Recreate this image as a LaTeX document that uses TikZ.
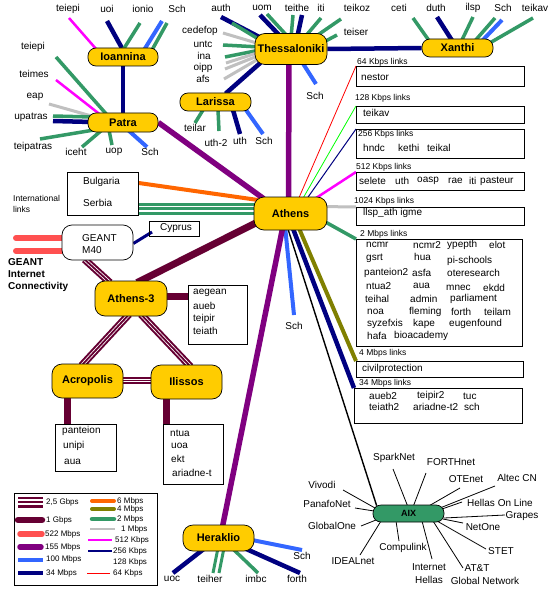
\documentclass[tikz,border=0pt]{standalone}
\usepackage{fontspec}
\setmainfont{Liberation Sans}
\usetikzlibrary{backgrounds,calc}
\definecolor{maroonc}{HTML}{660033}
\definecolor{salmonc}{HTML}{FF5050}
\definecolor{purplec}{HTML}{800080}
\definecolor{bluec}{HTML}{3366FF}
\definecolor{navyc}{HTML}{000080}
\definecolor{orangec}{HTML}{FF6600}
\definecolor{olivec}{HTML}{808000}
\definecolor{greenc}{HTML}{339966}
\definecolor{greyc}{HTML}{C0C0C0}
\definecolor{magc}{HTML}{FF00FF}
\definecolor{limec}{HTML}{00FF00}
\definecolor{redc}{HTML}{FF0000}
\definecolor{goldc}{HTML}{FFCC00}
\begin{document}
\begin{tikzpicture}[x=1pt,y=-1pt,
  city/.style={draw, line width=0.7pt, fill=goldc, rounded corners=8pt, inner sep=0pt, font=\bfseries\fontsize{11}{12}\selectfont},
  lbl/.style={inner sep=0pt, font=\fontsize{10}{12}\selectfont},
  wl/.style={lbl, anchor=west},
  sml/.style={inner sep=0pt, font=\fontsize{8.5}{10}\selectfont, anchor=west},
  leg/.style={inner sep=0pt, font=\fontsize{8}{10}\selectfont, anchor=west},
  boxn/.style={draw, line width=0.7pt, inner sep=0pt, anchor=north west},
  p155/.style={draw=purplec, line width=5.5pt},
  n34/.style={draw=navyc, line width=4.5pt},
  b100/.style={draw=bluec, line width=4pt},
  g2m/.style={draw=greenc, line width=3.5pt},
  s1m/.style={draw=greyc, line width=3pt},
  m512/.style={draw=magc, line width=2.5pt},
  n256/.style={draw=navyc, line width=1pt},
  l128/.style={draw=limec, line width=0.8pt},
  r64/.style={draw=redc, line width=0.8pt},
  o6/.style={draw=orangec, line width=4pt},
  o4/.style={draw=olivec, line width=4pt},
  mg1/.style={draw=maroonc, line width=7pt},
  mg25/.style={preaction={draw=maroonc, line width=7.4pt}, draw=white, line width=3.4pt, postaction={draw=maroonc, line width=1.8pt}},
  r522/.style={draw=salmonc, line width=6pt, line cap=round},
  thin/.style={draw=black, line width=0.8pt}
]
\useasboundingbox (0,0) rectangle (552,591);

% ---------- city nodes ----------
\node[city, minimum width=70pt, minimum height=18pt] (ioan) at (123,57) {Ioannina};
\node[city, minimum width=70pt, minimum height=19pt] (patra) at (123,122.5) {Patra};
\node[city, minimum width=71pt, minimum height=18pt] (lar) at (215.5,102) {Larissa};
\node[city, minimum width=72pt, minimum height=31pt, rounded corners=10pt] (thess) at (291,49) {Thessaloniki};
\node[city, minimum width=71pt, minimum height=18pt] (xan) at (457.5,48) {Xanthi};
\node[city, minimum width=73pt, minimum height=33pt, rounded corners=10pt] (ath) at (290.5,213.5) {Athens};
\node[city, minimum width=72pt, minimum height=35pt, rounded corners=10pt] (ath3) at (131,298.5) {Athens-3};
\node[city, minimum width=71pt, minimum height=34pt, rounded corners=10pt] (acro) at (87.5,381) {Acropolis};
\node[city, minimum width=71pt, minimum height=34pt, rounded corners=10pt] (ilis) at (186.5,382) {Ilissos};
\node[city, minimum width=71pt, minimum height=26pt, rounded corners=10pt] (her) at (218.5,538) {Heraklio};
\node[city, fill=greenc, minimum width=71pt, minimum height=17pt, font=\bfseries\fontsize{9}{10}\selectfont] (aix) at (408.5,513.5) {AIX};
\node[draw, line width=0.7pt, fill=white, rounded corners=10pt, minimum width=71pt, minimum height=35pt, inner sep=0pt] (geant) at (97.5,242.5) {};
\node[wl] (geantA) at (82,238) {GEANT};
\node[wl] (geantB) at (82,250) {M40};

% ---------- boxes ----------
\node[boxn, minimum width=168pt, minimum height=20pt] (b64) at (356,66) {};
\node[boxn, minimum width=168pt, minimum height=17pt] (b128) at (356,106) {};
\node[boxn, minimum width=168pt, minimum height=29pt] (b256) at (356,129) {};
\node[boxn, minimum width=168pt, minimum height=18pt] (b512) at (356,172) {};
\node[boxn, minimum width=168pt, minimum height=18pt] (b1024) at (356,207) {};
\node[boxn, minimum width=166pt, minimum height=107pt] (b2m) at (356,239) {};
\node[boxn, minimum width=167pt, minimum height=16pt] (b4m) at (356,361) {};
\node[boxn, minimum width=168pt, minimum height=35pt] (b34m) at (354,388) {};
\node[boxn, minimum width=71pt, minimum height=43pt] (bint) at (67,172) {};
\node[boxn, minimum width=50pt, minimum height=15pt] (bcyp) at (149,221) {};
\node[boxn, minimum width=59pt, minimum height=59pt] (b3) at (188,285) {};
\node[boxn, minimum width=61pt, minimum height=47pt] (bacro) at (55,424) {};
\node[boxn, minimum width=60pt, minimum height=60pt] (bilis) at (163,424) {};
\node[boxn, minimum width=143pt, minimum height=92pt] (legend) at (14,493) {};

% ---------- box texts ----------
\node[sml] (t64) at (357,62) {64 Kbps links};
\node[wl] (tnestor) at (361,77) {nestor};
\node[sml] (t128) at (355,98) {128 Kbps links};
\node[wl] (tteikav) at (363,113) {teikav};
\node[sml] (t256) at (358,134) {256 Kbps links};
\node[wl] at (363,148) {hndc};
\node[wl] at (398,148) {kethi};
\node[wl] at (427,148) {teikal};
\node[sml] (t512) at (356,167) {512 Kbps links};
\node[wl] at (359,181) {selete};
\node[wl] at (395,181) {uth};
\node[wl] at (417,181) {oasp};
\node[wl] at (448,181) {rae};
\node[wl] at (469,181) {iti};
\node[wl] at (480,181) {pasteur};
\node[sml] (t1024) at (354,201) {1024 Kbps links};
\node[wl] at (363,213) {llsp\_ath igme};
\node[sml] (t2m) at (360,234) {2 Mbps links};
\node[wl] at (366,245) {ncmr};
\node[wl] at (413,245) {ncmr2};
\node[wl] at (447,245) {ypepth};
\node[wl] at (489,245) {elot};
\node[wl] at (366,258) {gsrt};
\node[wl] at (414,257) {hua};
\node[wl] at (447,261) {pi-schools};
\node[wl] at (364,273) {panteion2};
\node[wl] at (412,273) {asfa};
\node[wl] at (447,273) {oteresearch};
\node[wl] at (366,286) {ntua2};
\node[wl] at (413,286) {aua};
\node[wl] at (446,288) {mnec};
\node[wl] at (483,288) {ekdd};
\node[wl] at (365,299) {teihal};
\node[wl] at (410,299) {admin};
\node[wl] at (450,299) {parliament};
\node[wl] at (367,312) {noa};
\node[wl] at (409,312) {fleming};
\node[wl] at (451,312) {forth};
\node[wl] at (484,312) {teilam};
\node[wl] at (367,324) {syzefxis};
\node[wl] at (413,324) {kape};
\node[wl] at (449,324) {eugenfound};
\node[wl] at (367,336) {hafa};
\node[wl] at (394,336) {bioacademy};
\node[sml] (t4m) at (359,353) {4 Mbps links};
\node[wl] at (362,369) {civilprotection};
\node[sml] (t34m) at (359,383) {34 Mbps links};
\node[wl] at (369,396) {aueb2};
\node[wl] at (417,396) {teipir2};
\node[wl] at (463,396) {tuc};
\node[wl] at (369,407) {teiath2};
\node[wl] at (413,407) {ariadne-t2};
\node[wl] at (464,407) {sch};

\node[wl] at (83,182) {Bulgaria};
\node[wl] at (83,203) {Serbia};
\node[sml] at (13,198) {International};
\node[sml] at (13,209) {links};
\node[wl] at (160,228) {Cyprus};
\node[inner sep=0pt, anchor=west, font=\bfseries\fontsize{10}{12}\selectfont] at (8,262) {GEANT};
\node[inner sep=0pt, anchor=west, font=\bfseries\fontsize{10}{12}\selectfont] at (8,274) {Internet};
\node[inner sep=0pt, anchor=west, font=\bfseries\fontsize{10}{12}\selectfont] at (8,287) {Connectivity};

\node[wl] at (193,293) {aegean};
\node[wl] at (193,306) {aueb};
\node[wl] at (193,319) {teipir};
\node[wl] at (193,331) {teiath};
\node[wl] at (62,431) {panteion};
\node[wl] at (63,446) {unipi};
\node[wl] at (64,462) {aua};
\node[wl] at (170,433) {ntua};
\node[wl] at (171,446) {uoa};
\node[wl] at (171,459) {ekt};
\node[wl] at (172,473) {ariadne-t};

% ---------- spoke labels ----------
\node[lbl] at (68,9) {teiepi};
\node[lbl] at (107,9) {uoi};
\node[lbl] at (143,9) {ionio};
\node[lbl] at (177,9) {Sch};
\node[lbl] at (221,8) {auth};
\node[lbl] at (262,8) {uom};
\node[lbl] at (297,8) {teithe};
\node[lbl] at (321,8) {iti};
\node[lbl] at (357,8) {teikoz};
\node[lbl] at (399,8) {ceti};
\node[lbl] at (436,8) {duth};
\node[lbl] at (473,8) {ilsp};
\node[lbl] at (503,8) {Sch};
\node[lbl] at (535,8) {teikav};
\node[lbl] at (356,32) {teiser};
\node[lbl] at (200,31) {cedefop};
\node[lbl] at (203,44) {untc};
\node[lbl] at (204,56) {ina};
\node[lbl] at (203,68) {oipp};
\node[lbl] at (203,79) {afs};
\node[lbl] at (315,96) {Sch};
\node[lbl] at (33,47) {teiepi};
\node[lbl] at (34,74) {teimes};
\node[lbl] at (35,97) {eap};
\node[lbl] at (31,117) {upatras};
\node[lbl] at (33,147) {teipatras};
\node[lbl] at (76,152) {iceht};
\node[lbl] at (114,152) {uop};
\node[lbl] at (150,152) {Sch};
\node[lbl] at (195,128) {teilar};
\node[lbl] at (216,143) {uth-2};
\node[lbl] at (240,141) {uth};
\node[lbl] at (264,141) {Sch};
\node[lbl] at (294,326) {Sch};
\node[lbl] at (172,579) {uoc};
\node[lbl] at (210,579) {teiher};
\node[lbl] at (256,579) {imbc};
\node[lbl] at (297,579) {forth};
\node[lbl] at (302,556) {Sch};

\node[lbl] at (394,458) {SparkNet};
\node[lbl] at (451,462) {FORTHnet};
\node[lbl] at (466,479) {OTEnet};
\node[lbl] at (517,478) {Altec CN};
\node[lbl] at (500,503) {Hellas On Line};
\node[lbl] at (522,516) {Grapes};
\node[lbl] at (483,527) {NetOne};
\node[lbl] at (501,551) {STET};
\node[lbl] at (477,568) {AT\&T};
\node[lbl] at (485,581) {Global Network};
\node[lbl] at (429,567) {Internet};
\node[lbl] at (429,580) {Hellas};
\node[lbl] at (403,548) {Compulink};
\node[lbl] at (353,561) {IDEALnet};
\node[lbl] at (332,526) {GlobalOne};
\node[lbl] at (327,504) {PanafoNet};
\node[lbl] at (322,485) {Vivodi};

% ---------- legend ----------
\draw[maroonc, line width=2.2pt] (18,498) -- (43,498);
\draw[maroonc, line width=2.2pt] (18,502) -- (43,502);
\draw[maroonc, line width=2.2pt] (18,506.5) -- (43,506.5);
\node[leg] at (46,502) {2,5 Gbps};
\draw[maroonc, line width=6.5pt, line cap=round] (18,520) -- (42,520);
\node[leg] at (46,520) {1 Gbps};
\draw[salmonc, line width=5.5pt, line cap=round] (20,534) -- (42,534);
\node[leg] at (45,534) {522 Mbps};
\draw[purplec, line width=5.5pt, line cap=round] (20,547) -- (41,547);
\node[leg] at (45,547) {155 Mbps};
\draw[bluec, line width=4pt] (18,560) -- (43,560);
\node[leg] at (46,559) {100 Mbps};
\draw[navyc, line width=4.5pt] (18,573) -- (43,573);
\node[leg] at (46,573) {34 Mbps};
\draw[orangec, line width=4pt, line cap=round] (92,501) -- (114,501);
\node[leg] at (117,501) {6 Mbps};
\draw[olivec, line width=4pt, line cap=round] (92,509) -- (114,509);
\node[leg] at (117,509) {4 Mbps};
\draw[greenc, line width=4.5pt, line cap=round] (92,519) -- (114,519);
\node[leg] at (117,519) {2 Mbps};
\draw[greyc, line width=2.5pt] (90,529) -- (115,529);
\node[leg] at (121,529) {1 Mbps};
\draw[magc, line width=2pt] (88,540) -- (112,540);
\node[leg] at (115,540) {512 Kbps};
\draw[navyc, line width=1.6pt] (88,551) -- (112,551);
\node[leg] at (113,551) {256 Kbps};
\node[leg] at (113,562) {128 Kbps};
\draw[redc, line width=0.8pt] (87,573) -- (110,573);
\node[leg] at (113,573) {64 Kbps};

% ---------- connectors ----------
\begin{scope}[on background layer]
\fill[white] (0,0) rectangle (552,591);
% Ioannina
\draw[m512] (69,18) -- (97,50);
\draw[n34] (107,21) -- (123,50);
\draw[g2m] (140,23) -- (123,50);
\draw[b100] (162,21) -- (144,50);
\draw[g2m] (167,23) -- (152,50);
\draw[n34] (ioan) -- (patra);
% Patra
\draw[g2m] (56,57) -- (108,116);
\draw[m512] (56,80) -- (102,116);
\draw[s1m] (49,104) -- (95,117);
\draw[g2m] (53,116) -- (92,117);
\draw[n34] (53,121) -- (92,122);
\draw[g2m] (40,139) -- (94,130);
\draw[g2m] (82,147) -- (102,130);
\draw[g2m] (112,145) -- (109,130);
\draw[b100] (147,147) -- (128,130);
\draw[p155] (patra.east) -- ($(ath.north west)+(10,2)$);
% Larissa
\draw[g2m] (203,110) -- (195,123);
\draw[g2m] (218,110) -- (219,131);
\draw[n34] (233,110) -- (240,134);
\draw[b100] (246,110) -- (263,134);
\draw[n34] ($(lar.north)+(10,1)$) -- ($(thess.south west)+(8,-4)$);
% Thessaloniki
\draw[n34] (221,17) -- (265,40);
\draw[g2m] (232,23) -- (265,43);
\draw[s1m] (223,33) -- (260,44);
\draw[g2m] (223,45) -- (260,47);
\draw[g2m] (225,57) -- (260,50);
\draw[s1m] (226,63) -- (260,52);
\draw[s1m] (225,69) -- (260,55);
\draw[s1m] (224,79) -- (260,58);
\draw[n34] (260,15) -- (282,38);
\draw[g2m] (267,14) -- (289,38);
\draw[g2m] (293,15) -- (291,38);
\draw[n34] (302,15) -- (297,38);
\draw[g2m] (321,18) -- (304,38);
\draw[g2m] (341,19) -- (312,39);
\draw[g2m] (337,35) -- (320,44);
\draw[b100] (302,62) -- (316,84);
\draw[n34] (thess.east) -- (xan.west);
\draw[p155] ($(thess.south)+(-2,-2)$) -- ($(ath.north)+(-2,2)$);
% Xanthi
\draw[g2m] (413,18) -- (430,42);
\draw[n34] (437,17) -- (453,42);
\draw[g2m] (473,17) -- (461,42);
\draw[g2m] (495,18) -- (474,42);
\draw[b100] (502,20) -- (481,42);
\draw[g2m] (533,18) -- (488,44);
% Athens to the right boxes
\draw[r64] (298,200) -- (b64.north west);
\draw[l128] (302,200) -- (b128.north west);
\draw[n256] (306,200) -- (b256.north west);
\draw[m512] (313,200) -- (b512.north west);
\draw[s1m] (320,206.5) -- (b1024.north west);
\draw[g2m] (320,219) -- (b2m.north west);
\draw[o4] (298,226) -- (b4m.north west);
\draw[n34] (292,226) -- (b34m.north west);
\draw[thin, line width=1.4pt] (287,226) -- ($(aix.north west)+(4,1)$);
\draw[b100] (285,226) -- (294,315);
\draw[p155] (283,226) -- ($(her.north)+(4,2)$);
% Athens to the left
\draw[o6] (bint.east |- 0,183) -- (258,200);
\draw[greenc, line width=3pt] (bint.east |- 0,204) -- (258,204);
\draw[greenc, line width=3pt] (bint.east |- 0,208.5) -- (258,208.5);
\draw[greenc, line width=3pt] (bint.east |- 0,213) -- (258,213);
\draw[mg1] ($(ath.west)+(3,9)$) -- ($(ath3.north)+(6,2)$);
\draw[mg1] (ath3.east |- 0,296) -- (b3.west |- 0,296);
\draw[mg25] ($(geant.south)+(-13,-1)$) -- ($(ath3.north)+(-21,2)$);
\draw[mg25] ($(ath3.south)+(-2,-2)$) -- ($(acro.north)+(-6,2)$);
\draw[mg25] ($(ath3.south)+(10,-2)$) -- ($(ilis.north)+(4,2)$);
\draw[mg25] (acro.east |- 0,380.5) -- (ilis.west |- 0,380.5);
\draw[mg1] (67,396) -- (bacro.north -| 67,0);
\draw[mg1] (166,397) -- (bilis.north -| 166,0);
\draw[navyc, line width=3pt] ($(geant.east)+(0,1)$) -- ($(bcyp.north west)+(3,11)$);
\draw[r522] (16,238) -- (geant.west |- 0,238);
\draw[r522] (16,251) -- (geant.west |- 0,251);
% Heraklio
\draw[n34] (173,573) -- (205,548);
\draw[greenc, line width=3pt] (218,548) -- (213,573);
\draw[greenc, line width=3pt] (224,548) -- (219,573);
\draw[g2m] (232,548) -- (258,573);
\draw[n34] (244,548) -- (300,573);
\draw[b100] (252,540) -- (302,550);
% AIX
\draw[thin] (393,469) -- (408,507);
\draw[thin] (426,473) -- (413,507);
\draw[thin] (460,488) -- (427,507);
\draw[thin] (495,486) -- (440,508);
\draw[thin] (462,502) -- (442,509);
\draw[thin] (505,515) -- (444,518);
\draw[thin] (463,523) -- (443,519);
\draw[thin] (486,549) -- (437,521);
\draw[thin] (463,568) -- (433,521);
\draw[thin] (432,559) -- (422,521);
\draw[thin] (399,541) -- (396,521);
\draw[thin] (360,555) -- (381,521);
\draw[thin] (361,526) -- (376,520);
\draw[thin] (355,508) -- (374,511);
\draw[thin] (343,490) -- (375,508);
\end{scope}
\end{tikzpicture}
\end{document}
